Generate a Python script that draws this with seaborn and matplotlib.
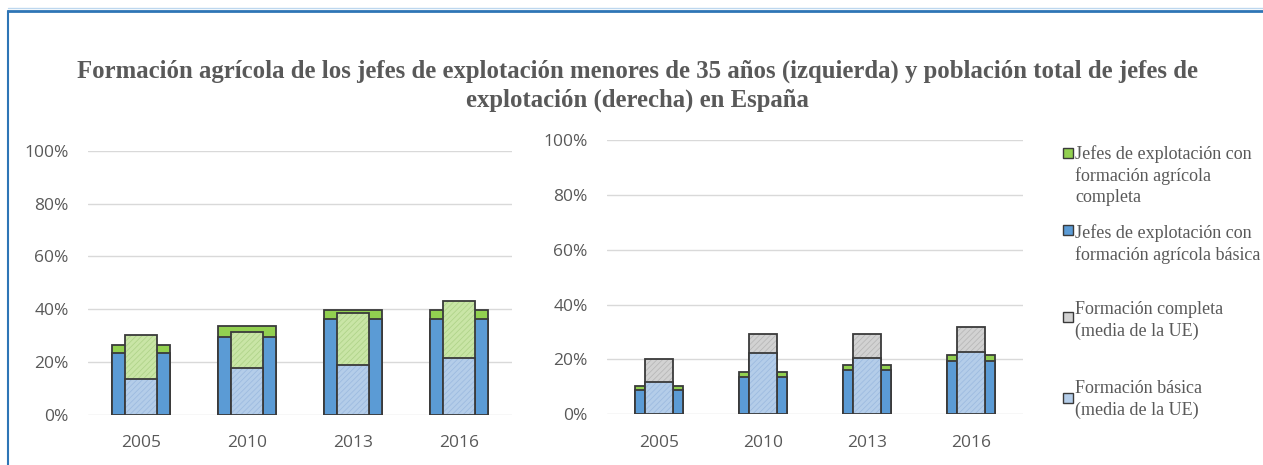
import numpy as np
import pandas as pd
import matplotlib.pyplot as plt
import matplotlib.lines as mlines
import matplotlib.patches as mpatches
import seaborn as sns

years = ['2005', '2010', '2013', '2016']

# left: jefes < 35 anos
left_basic = [23.5, 29.6, 36.2, 36.2]
left_complete = [2.9, 4.0, 3.3, 3.3]
left_eu_basic = [13.4, 17.6, 18.7, 21.4]
left_eu_complete = [16.8, 13.6, 19.8, 21.5]

# right: poblacion total de jefes
right_basic = [8.9, 13.6, 16.2, 19.5]
right_complete = [1.4, 1.7, 1.7, 2.3]
right_eu_basic = [11.7, 22.3, 20.4, 22.6]
right_eu_complete = [8.3, 6.8, 8.7, 9.2]

legend_labels = ['Jefes de explotación con\nformación agrícola\ncompleta',
                 'Jefes de explotación con\nformación agrícola básica',
                 'Formación completa\n(media de la UE)',
                 'Formación básica\n(media de la UE)']

GREEN = '#92d050'
BLUE = '#5b9bd5'
LGREEN = '#c9e5a6'
LBLUE = '#b4cde9'
GRAY = '#d2d2d2'
EDGE = '#3a3a3a'
TXT = '#595959'

sns.set_style('white')
plt.rcParams['font.family'] = ['Open Sans', 'DejaVu Sans']
plt.rcParams['hatch.linewidth'] = 0.6

fig = plt.figure(figsize=(12.63, 4.65), dpi=100)
axL = fig.add_axes([88/1263, 50.5/465, 424/1263, 263.5/465])
axR = fig.add_axes([607/1263, 50.7/465, 416/1263, 274.3/465])


def hatched(ax, vals, width, color, hcolor):
    n0 = len(ax.patches)
    sns.barplot(x=years, y=vals, width=width, color=color, saturation=1,
                errorbar=None, ax=ax, linewidth=0)
    for p in ax.patches[n0:]:
        p.set_hatch('//////')
        p.set_edgecolor(hcolor)
        p.set_linewidth(0)
    sns.barplot(x=years, y=vals, width=width, fill=False, color=EDGE,
                errorbar=None, ax=ax, linewidth=1.3)


def panel(ax, basic, complete, eu_basic, eu_complete, wo, wi, top_color, top_hatch):
    tot = np.array(basic) + np.array(complete)
    eu_tot = np.array(eu_basic) + np.array(eu_complete)
    sns.barplot(x=years, y=tot, width=wo, color=GREEN, saturation=1,
                errorbar=None, ax=ax, edgecolor=EDGE, linewidth=1.3)
    sns.barplot(x=years, y=basic, width=wo, color=BLUE, saturation=1,
                errorbar=None, ax=ax, edgecolor=EDGE, linewidth=1.3)
    hatched(ax, eu_tot, wi, top_color, top_hatch)
    hatched(ax, eu_basic, wi, LBLUE, '#9dbbe0')
    ax.set_ylim(0, 100)
    ax.set_xlim(-0.5, 3.5)
    ax.set_yticks([0, 20, 40, 60, 80, 100])
    ax.set_yticklabels([f'{v}%' for v in [0, 20, 40, 60, 80, 100]])
    ax.yaxis.grid(True, color='#d9d9d9', linewidth=1)
    ax.set_axisbelow(True)
    for s in ax.spines.values():
        s.set_visible(False)
    ax.tick_params(axis='y', length=0, pad=14, labelsize=12.5, labelcolor=TXT)
    ax.tick_params(axis='x', length=0, pad=15, labelsize=12.5, labelcolor=TXT)
    ax.set_xlabel('')
    ax.set_ylabel('')


panel(axL, left_basic, left_complete, left_eu_basic, left_eu_complete,
      0.55, 0.30, LGREEN, '#b0d48a')
panel(axR, right_basic, right_complete, right_eu_basic, right_eu_complete,
      0.47, 0.26, GRAY, '#b8b8b8')

fig.text(637/1263, 1 - 60/465,
         'Formación agrícola de los jefes de explotación menores de 35 años (izquierda) y población total de jefes de\nexplotación (derecha) en España',
         ha='center', va='top', fontsize=17.8, fontweight='bold', color=TXT,
         family=['Liberation Serif', 'DejaVu Serif'], linespacing=1.3)

# legend
leg_colors = [GREEN, BLUE, GRAY, LBLUE]
leg_text_top = [145, 224, 301, 380]
leg_box_y = [148, 225, 312, 393]
for lab, c, ty, by in zip(legend_labels, leg_colors, leg_text_top, leg_box_y):
    fig.patches.append(mpatches.Rectangle((1063/1263, 1 - (by + 10)/465), 10/1263, 10/465,
                                          transform=fig.transFigure, facecolor=c,
                                          edgecolor=EDGE, linewidth=1.0))
    fig.text(1075/1263, 1 - ty/465, lab, ha='left', va='top', fontsize=13,
             color=TXT, family=['Liberation Serif', 'DejaVu Serif'], linespacing=1.32)

# blue frame
fig.lines.append(mlines.Line2D([8/1263, 8/1263], [0, 1 - 11/465], transform=fig.transFigure,
                               color='#2e75b6', linewidth=1.5))
fig.lines.append(mlines.Line2D([8/1263, 1], [1 - 11/465, 1 - 11/465], transform=fig.transFigure,
                               color='#2e75b6', linewidth=2))
fig.lines.append(mlines.Line2D([8/1263, 1], [1 - 8/465, 1 - 8/465], transform=fig.transFigure,
                               color='#bdd7ee', linewidth=1))

fig.savefig('out.png', dpi=100)
